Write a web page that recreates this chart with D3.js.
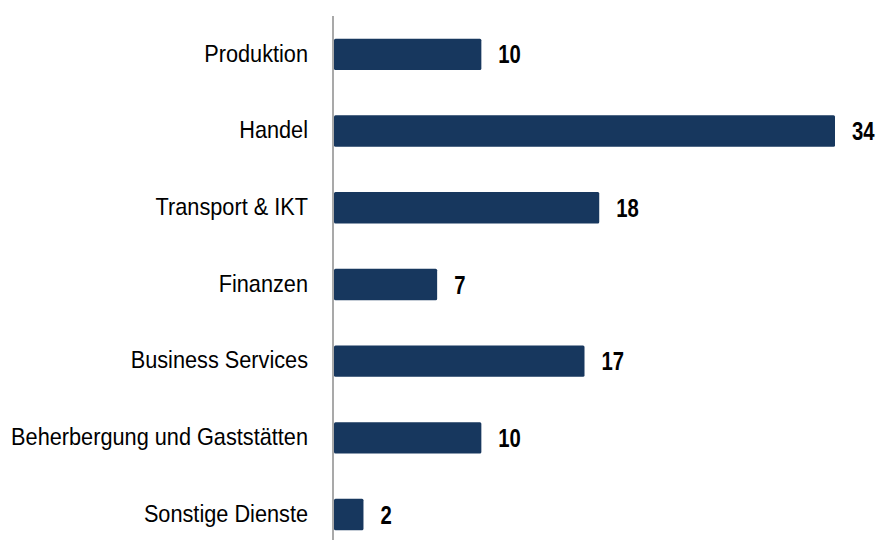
<!DOCTYPE html>
<html>
<head>
<meta charset="utf-8">
<script src="https://cdn.jsdelivr.net/npm/d3@7"></script>
<style>
  body { margin: 0; background: #fff; }
  svg text { font-family: "Liberation Sans Narrow", "Arial Narrow", "Liberation Sans", Arial, sans-serif; }
</style>
</head>
<body>
<div id="chart"></div>
<script>
const categories = ["Produktion", "Handel", "Transport & IKT", "Finanzen", "Business Services", "Beherbergung und Gaststätten", "Sonstige Dienste"];
const values = [10, 34, 18, 7, 17, 10, 2];

const width = 877, height = 544;
const margin = { top: 16, right: 42, bottom: 0, left: 334 };
const catScale = 0.905, valScale = 0.78; // squeeze to look like a narrow face

const svg = d3.select("#chart").append("svg")
    .attr("width", width)
    .attr("height", height);

const x = d3.scaleLinear()
    .domain([0, 34])
    .range([margin.left, 835]);

const y = d3.scaleBand()
    .domain(categories)
    .range([margin.top, margin.top + 7 * 76.7])
    .paddingInner(0.59)
    .paddingOuter(0.295);

// bars
svg.append("g")
    .selectAll("rect")
    .data(values)
    .enter().append("rect")
    .attr("x", x(0))
    .attr("y", (d, i) => y(categories[i]))
    .attr("width", d => x(d) - x(0))
    .attr("height", y.bandwidth())
    .attr("rx", 1.5)
    .attr("fill", "#17375e");

// value labels
svg.append("g")
    .selectAll("text")
    .data(values)
    .enter().append("text")
    .attr("transform", (d, i) => `translate(${x(d) + 17},${y(categories[i]) + y.bandwidth() / 2}) scale(${valScale},1)`)
    .attr("dy", "0.35em")
    .attr("font-size", 26)
    .attr("font-weight", "bold")
    .attr("fill", "#000")
    .text(d => d);

// category axis
const yAxis = svg.append("g")
    .attr("transform", `translate(${margin.left - 1},0)`)
    .call(d3.axisLeft(y).tickSize(0).tickPadding(25));

yAxis.select(".domain").remove();
yAxis.selectAll("text")
    .attr("font-size", 24)
    .attr("fill", "#000")
    .attr("x", -25 / catScale)
    .attr("dy", "0.3em")
    .attr("transform", `scale(${catScale},1)`);

svg.append("line")
    .attr("x1", margin.left - 1).attr("x2", margin.left - 1)
    .attr("y1", margin.top).attr("y2", 540)
    .attr("stroke", "#8c8c8c")
    .attr("stroke-width", 1.5);
</script>
</body>
</html>
